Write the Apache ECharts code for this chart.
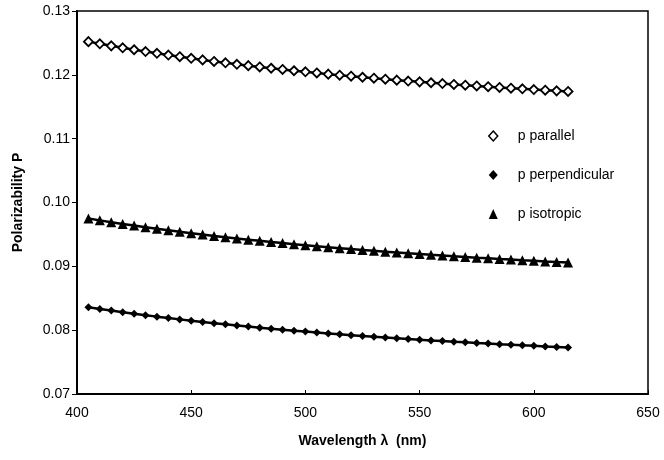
<!DOCTYPE html>
<html>
<head>
<meta charset="utf-8">
<script src="https://cdn.jsdelivr.net/npm/echarts@6/dist/echarts.min.js"></script>
<style>
html,body{margin:0;padding:0;background:#fff;}
#chart{width:664px;height:460px;}
</style>
</head>
<body>
<div id="chart"></div>
<script>
var wavelengths = [405,410,415,420,425,430,435,440,445,450,455,460,465,470,475,480,485,490,495,500,505,510,515,520,525,530,535,540,545,550,555,560,565,570,575,580,585,590,595,600,605,610,615];

var pParallel = [0.12520,0.12486,0.12454,0.12423,0.12393,0.12364,0.12337,0.12310,0.12284,0.12259,0.12234,0.12210,0.12188,0.12165,0.12144,0.12123,0.12103,0.12084,0.12064,0.12047,0.12029,0.12011,0.11994,0.11978,0.11962,0.11947,0.11932,0.11917,0.11903,0.11890,0.11876,0.11863,0.11850,0.11838,0.11826,0.11814,0.11802,0.11791,0.11781,0.11770,0.11760,0.11749,0.11740];

var pPerpendicular = [0.08360,0.08333,0.08307,0.08282,0.08257,0.08234,0.08212,0.08191,0.08169,0.08149,0.08129,0.08110,0.08092,0.08073,0.08056,0.08039,0.08023,0.08008,0.07992,0.07978,0.07963,0.07949,0.07935,0.07922,0.07910,0.07897,0.07885,0.07873,0.07862,0.07851,0.07840,0.07830,0.07819,0.07809,0.07799,0.07790,0.07780,0.07772,0.07763,0.07755,0.07746,0.07738,0.07730];

var pIsotropic = [0.09750,0.09720,0.09692,0.09664,0.09638,0.09612,0.09588,0.09564,0.09541,0.09519,0.09497,0.09476,0.09456,0.09436,0.09417,0.09399,0.09381,0.09364,0.09347,0.09331,0.09315,0.09300,0.09285,0.09270,0.09257,0.09243,0.09230,0.09217,0.09204,0.09192,0.09180,0.09169,0.09157,0.09147,0.09136,0.09126,0.09115,0.09106,0.09096,0.09087,0.09077,0.09068,0.09060];

var seriesNames = ['p parallel', 'p perpendicular', 'p isotropic'];
var xAxisTitle = 'Wavelength \u03bb  (nm)';
var yAxisTitle = 'Polarizability P';

function pairs(xs, ys) {
  return xs.map(function (x, i) { return [x, ys[i]]; });
}

var FONT = '"Liberation Sans", Arial, sans-serif';
var chart = echarts.init(document.getElementById('chart'), null, {renderer: 'canvas'});
chart.setOption({
  animation: false,
  backgroundColor: '#fff',
  grid: {left: 77, right: 16, top: 11, bottom: 66, show: true, borderColor: '#000', borderWidth: 1.5},
  xAxis: {
    type: 'value', min: 400, max: 650, interval: 50,
    name: xAxisTitle, nameLocation: 'middle', nameGap: 40,
    nameTextStyle: {fontFamily: FONT, fontSize: 14, fontWeight: 'bold', color: '#000'},
    axisLine: {show: true, onZero: false, lineStyle: {color: '#000', width: 2}},
    axisTick: {show: true, inside: true, length: 4, lineStyle: {color: '#000', width: 1}},
    axisLabel: {fontFamily: FONT, fontSize: 14, color: '#000', margin: 12},
    splitLine: {show: false}
  },
  yAxis: {
    type: 'value', min: 0.07, max: 0.13, interval: 0.01,
    name: yAxisTitle, nameLocation: 'middle', nameGap: 52,
    nameTextStyle: {fontFamily: FONT, fontSize: 14, fontWeight: 'bold', color: '#000'},
    axisLine: {show: true, lineStyle: {color: '#000', width: 2}},
    axisTick: {show: true, inside: false, length: 5, lineStyle: {color: '#000', width: 1}},
    axisLabel: {fontFamily: FONT, fontSize: 14, color: '#000', margin: 7,
      formatter: function (v) { return v.toFixed(2); }},
    splitLine: {show: false}
  },
  legend: {
    orient: 'vertical', left: 483, top: 124,
    itemWidth: 9, itemHeight: 10, itemGap: 25,
    textStyle: {fontFamily: FONT, fontSize: 14, color: '#000', padding: [0, 0, 0, 15]},
    data: [
      {name: seriesNames[0], icon: 'diamond', itemStyle: {color: '#fff', borderColor: '#000', borderWidth: 1.5}},
      {name: seriesNames[1], icon: 'diamond', itemStyle: {color: '#000', borderWidth: 0}},
      {name: seriesNames[2], icon: 'triangle', itemStyle: {color: '#000', borderWidth: 0}}
    ]
  },
  series: [
    {
      name: seriesNames[0], type: 'line', data: pairs(wavelengths, pParallel),
      symbol: 'diamond', symbolSize: 9, showAllSymbol: true,
      lineStyle: {color: '#000', width: 2.5},
      itemStyle: {color: '#fff', borderColor: '#000', borderWidth: 1.8}
    },
    {
      name: seriesNames[1], type: 'line', data: pairs(wavelengths, pPerpendicular),
      symbol: 'diamond', symbolSize: 8, showAllSymbol: true,
      lineStyle: {color: '#000', width: 2.5},
      itemStyle: {color: '#000', borderColor: '#000', borderWidth: 0}
    },
    {
      name: seriesNames[2], type: 'line', data: pairs(wavelengths, pIsotropic),
      symbol: 'triangle', symbolSize: 10, showAllSymbol: true,
      lineStyle: {color: '#000', width: 2.5},
      itemStyle: {color: '#000', borderColor: '#000', borderWidth: 0}
    }
  ]
});
</script>
</body>
</html>
